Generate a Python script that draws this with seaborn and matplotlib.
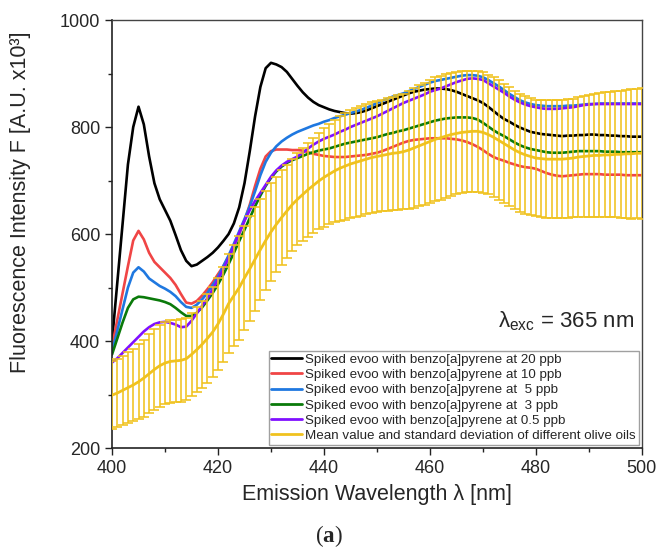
import numpy as np
import pandas as pd
import matplotlib.pyplot as plt
import seaborn as sns

# emission wavelength grid [nm], one reading per nm
wavelength = list(range(400, 501))

# spiked evoo spectra
ppb20 = [400, 510, 620, 730, 800, 838, 805, 745, 695, 665,
         645, 625, 598, 570, 550, 540, 543, 550, 557, 565,
         575, 587, 600, 620, 650, 695, 755, 820, 875, 910,
         920, 917, 912, 903, 890, 877, 865, 855, 847, 841,
         837, 833, 830, 828, 826, 825, 826, 828, 831, 835,
         839, 843, 847, 851, 855, 859, 863, 866, 868, 870,
         871, 872, 872, 871, 869, 866, 862, 858, 854, 850,
         845, 838, 830, 822, 815, 810, 804, 799, 795, 791,
         789, 787, 786, 785, 784, 783, 784, 784, 785, 785,
         786, 786, 785, 785, 784, 784, 783, 783, 782, 782, 782]
ppb10 = [390, 440, 490, 540, 588, 606, 590, 565, 548, 538,
         528, 518, 505, 488, 472, 470, 475, 485, 497, 510,
         525, 540, 558, 578, 600, 625, 655, 690, 722, 745,
         755, 758, 758, 758, 757, 757, 756, 753, 750, 748,
         746, 745, 744, 744, 744, 745, 746, 747, 748, 750,
         752, 755, 759, 763, 767, 771, 774, 776, 777, 778,
         779, 779, 779, 779, 778, 777, 775, 772, 768, 763,
         757, 750, 744, 740, 737, 733, 730, 727, 725, 724,
         722, 718, 714, 711, 709, 708, 709, 710, 711, 712,
         712, 712, 712, 711, 711, 711, 711, 710, 710, 710, 710]
ppb5 = [380, 420, 460, 500, 528, 538, 530, 517, 510, 503,
        498, 492, 484, 473, 464, 462, 468, 478, 490, 505,
        520, 540, 560, 582, 605, 628, 652, 680, 710, 735,
        752, 764, 773, 780, 786, 791, 795, 799, 803, 806,
        810, 813, 817, 820, 823, 826, 829, 832, 836, 840,
        845, 849, 853, 857, 860, 863, 867, 871, 875, 879,
        883, 886, 888, 890, 892, 894, 896, 897, 897, 896,
        893, 888, 882, 876, 869, 862, 856, 850, 846, 843,
        841, 840, 839, 839, 839, 839, 840, 840, 841, 842,
        843, 843, 844, 844, 844, 844, 844, 844, 844, 844, 844]
ppb3 = [375, 405, 435, 462, 478, 483, 482, 480, 478, 476,
        473, 469, 462, 454, 447, 447, 453, 463, 476, 490,
        506, 524, 544, 565, 587, 608, 630, 652, 672, 690,
        705, 717, 726, 733, 738, 742, 746, 750, 753, 756,
        758, 760, 763, 766, 769, 771, 773, 775, 777, 779,
        781, 784, 787, 789, 792, 794, 797, 800, 803, 806,
        809, 812, 814, 816, 817, 818, 818, 818, 817, 814,
        808, 801, 794, 788, 783, 777, 771, 766, 762, 759,
        757, 755, 753, 752, 752, 752, 753, 754, 755, 755,
        755, 755, 755, 754, 754, 754, 753, 753, 753, 753, 753]
ppb05 = [360, 368, 378, 388, 398, 408, 418, 426, 432, 435,
         436, 434, 431, 426, 427, 438, 452, 466, 480, 497,
         515, 535, 555, 578, 602, 625, 645, 662, 677, 692,
         707, 719, 728, 735, 740, 745, 752, 760, 767, 773,
         778, 782, 786, 791, 795, 800, 804, 808, 812, 816,
         820, 825, 830, 835, 840, 845, 849, 853, 857, 861,
         866, 869, 872, 876, 880, 884, 887, 890, 891, 890,
         888, 882, 876, 870, 864, 857, 851, 846, 842, 839,
         837, 835, 834, 834, 834, 835, 836, 837, 839, 841,
         842, 843, 843, 843, 843, 843, 843, 843, 843, 843, 843]

# mean and standard deviation of the different olive oils
oil_mean = [299, 303, 308, 313, 318, 324, 331, 339, 347, 354,
            359, 362, 363, 364, 367, 375, 384, 394, 405, 417,
            432, 450, 470, 485, 500, 518, 535, 553, 571, 588,
            604, 618, 631, 643, 655, 665, 674, 683, 691, 699,
            706, 712, 718, 723, 727, 731, 734, 737, 740, 743,
            745, 747, 749, 751, 752, 754, 757, 761, 765, 769,
            773, 777, 780, 783, 786, 788, 790, 791, 792, 792,
            790, 786, 781, 775, 769, 763, 757, 752, 748, 745,
            742, 741, 740, 740, 740, 740, 741, 742, 744, 745,
            746, 747, 747, 748, 748, 749, 749, 750, 750, 751, 751]
oil_std = [63, 64, 65, 66, 68, 70, 72, 74, 76, 77,
           77, 77, 77, 77, 77, 78, 79, 81, 83, 85,
           86, 89, 92, 95, 97, 98, 98, 97, 95, 93,
           91, 89, 88, 87, 86, 86, 87, 88, 89, 90,
           92, 94, 96, 98, 100, 101, 102, 103, 103, 104,
           104, 104, 105, 106, 107, 108, 110, 112, 113, 114,
           115, 116, 116, 116, 115, 114, 114, 113, 113, 113,
           113, 112, 112, 112, 111, 111, 110, 110, 110, 109,
           109, 109, 110, 110, 110, 110, 111, 111, 112, 113,
           114, 115, 116, 117, 117, 118, 119, 120, 121, 121, 122]

labels = ['Spiked evoo with benzo[a]pyrene at 20 ppb',
          'Spiked evoo with benzo[a]pyrene at 10 ppb',
          'Spiked evoo with benzo[a]pyrene at  5 ppb',
          'Spiked evoo with benzo[a]pyrene at  3 ppb',
          'Spiked evoo with benzo[a]pyrene at 0.5 ppb']
colors = ['#000000', '#F04545', '#1F78E0', '#0A7A0A', '#8010FF']
yellow = '#F0C21E'

sns.set_style('ticks')
plt.rcParams['font.family'] = ['Liberation Sans', 'DejaVu Sans']
plt.rcParams['mathtext.fontset'] = 'custom'
plt.rcParams['mathtext.bf'] = 'Liberation Serif:bold'
plt.rcParams['mathtext.rm'] = 'Liberation Sans'

df = pd.DataFrame({'wl': wavelength})
for lab, vals in zip(labels, [ppb20, ppb10, ppb5, ppb3, ppb05]):
    df[lab] = vals
long = df.melt(id_vars='wl', var_name='sample', value_name='F')

fig = plt.figure(figsize=(6.59, 5.56), dpi=100)
ax = fig.add_axes([0.170, 0.194, 0.804, 0.770])

sns.lineplot(data=long, x='wl', y='F', hue='sample', hue_order=labels,
             palette=colors, linewidth=1.9, ax=ax, legend=False, zorder=2)

# error bars of the olive oils on top of the spiked spectra
ax.errorbar(wavelength, oil_mean, yerr=oil_std, fmt='none', ecolor=yellow,
            elinewidth=1.15, capsize=3.4, capthick=1.15, zorder=3)
sns.lineplot(x=wavelength, y=oil_mean, color=yellow, linewidth=2.0, ax=ax, zorder=4)

ax.set_xlim(400, 500)
ax.set_ylim(200, 1000)
ax.set_xticks([400, 420, 440, 460, 480, 500])
ax.set_xticks([410, 430, 450, 470, 490], minor=True)
ax.set_yticks([200, 400, 600, 800, 1000])
ax.set_yticks([300, 500, 700, 900], minor=True)
ax.tick_params(axis='both', which='major', labelsize=13, length=5, width=1, direction='out', color='#222222')
ax.tick_params(axis='both', which='minor', length=3, width=1, direction='out', color='#222222')
for side in ['left', 'bottom']:
    ax.spines[side].set_color('#222222')
    ax.spines[side].set_linewidth(1.2)
for side in ['top', 'right']:
    ax.spines[side].set_color('#444444')
    ax.spines[side].set_linewidth(1.0)

ax.set_xlabel('Emission Wavelength λ [nm]', fontsize=15.5, labelpad=5)
ax.set_ylabel('Fluorescence Intensity F [A.U. x10³]', fontsize=15.5)
ax.yaxis.set_label_coords(-0.152, 0.575)

ax.text(0.985, 0.297, r'λ$_{\mathregular{exc}}$ = 365 nm', transform=ax.transAxes,
        ha='right', va='center', fontsize=16)

handles = [plt.Line2D([], [], color=c, lw=2.0) for c in colors]
handles.append(plt.Line2D([], [], color=yellow, lw=2.0))
leg = ax.legend(handles, labels + ['Mean value and standard deviation of different olive oils'],
                loc='lower right', fontsize=9.6, frameon=True, fancybox=False,
                handlelength=2.3, handletextpad=0.25, labelspacing=0.22,
                borderpad=0.2, borderaxespad=0.25, edgecolor='#888888')
leg.get_frame().set_linewidth(1.0)

fig.text(0.499, 0.036, r'($\mathbf{a}$)', family='Liberation Serif', fontsize=16.5,
         ha='center', va='center')

fig.savefig('out.png', dpi=100)
